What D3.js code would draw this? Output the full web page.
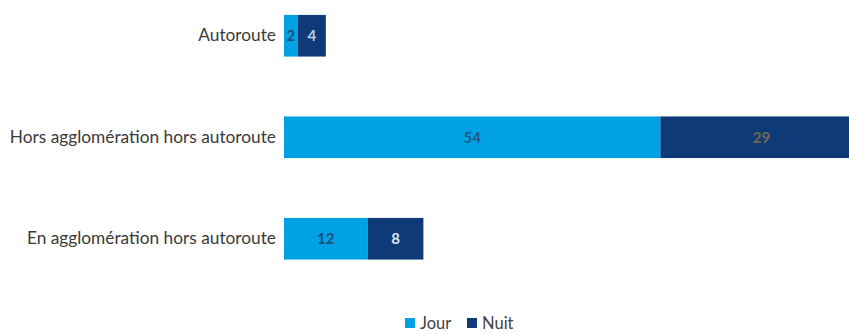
<!DOCTYPE html>
<html>
<head>
<meta charset="utf-8">
<script src="https://cdn.jsdelivr.net/npm/d3@7"></script>
<style>
  html, body { margin: 0; padding: 0; background: #fff; }
  svg { display: block; }
</style>
</head>
<body>
<svg id="chart" width="849" height="334"></svg>
<script>
// Accidents by road type, split day / night
const categories = ["Autoroute", "Hors agglomération hors autoroute", "En agglomération hors autoroute"];
const seriesNames = ["Jour", "Nuit"];
const jour = [2, 54, 12];
const nuit = [4, 29, 8];

const colors = { Jour: "#00a2e3", Nuit: "#0f3a78" };
const labelColors = [
  ["#1d4f7f", "#b9cbe3"],
  ["#1d5a8a", "#6c6a4c"],
  ["#1d4f7f", "#dde5f0"]
];

const svg = d3.select("#chart");
const H = 334;
const left = 284;

const x = d3.scaleLinear().domain([0, 1]).range([left, left + 6.97]);
const y = d3.scaleBand().domain(categories).range([-15.5, 290]).paddingInner(0.59).paddingOuter(0.3);

const rows = categories.map((c, i) => ({ cat: c, Jour: jour[i], Nuit: nuit[i], idx: i }));
const stacked = d3.stack().keys(seriesNames)(rows);

const font = "Lato, 'Open Sans', sans-serif";

// stacked segments
stacked.forEach((layer, si) => {
  const g = svg.append("g");
  g.selectAll("rect").data(layer).join("rect")
    .attr("x", d => x(d[0]))
    .attr("y", d => y(d.data.cat))
    .attr("width", d => x(d[1]) - x(d[0]))
    .attr("height", y.bandwidth())
    .attr("fill", colors[layer.key]);
  g.selectAll("text").data(layer).join("text")
    .attr("x", d => (x(d[0]) + x(d[1])) / 2)
    .attr("y", d => y(d.data.cat) + y.bandwidth() / 2)
    .attr("dy", "0.35em")
    .attr("text-anchor", "middle")
    .attr("font-family", font)
    .attr("font-size", 15)
    .attr("font-weight", 700)
    .attr("fill", d => labelColors[d.data.idx][si])
    .text(d => d.data[layer.key]);
});

// category axis
const yAxis = d3.axisLeft(y).tickSize(0).tickPadding(8);
const ag = svg.append("g").attr("transform", `translate(${left},0)`).call(yAxis);
ag.select(".domain").remove();
ag.selectAll("text")
  .attr("font-family", font)
  .attr("font-size", 17.3)
  .attr("fill", "#3a3a3a");

// legend
const legend = svg.append("g").attr("transform", "translate(405,323)");
const items = legend.selectAll("g").data(seriesNames).join("g")
  .attr("transform", (d, i) => `translate(${i * 62},0)`);
items.append("rect").attr("x", 0).attr("y", -5).attr("width", 10).attr("height", 10)
  .attr("fill", d => colors[d]);
items.append("text").attr("x", 15).attr("y", 0).attr("dy", "0.36em")
  .attr("font-family", font).attr("font-size", 16.5).attr("fill", "#444")
  .text(d => d);
</script>
</body>
</html>
